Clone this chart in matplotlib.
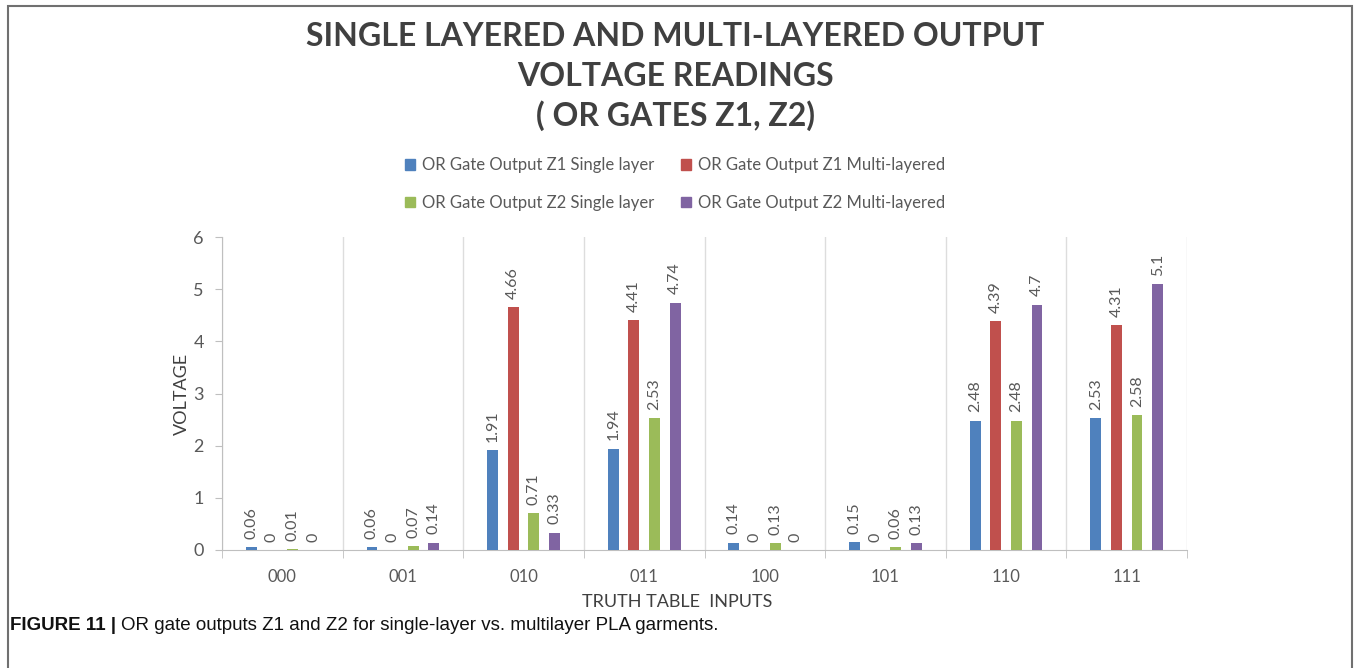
import numpy as np
import matplotlib
matplotlib.use("Agg")
import matplotlib.pyplot as plt
from matplotlib.patches import Rectangle, Patch

# data
inputs = ["000", "001", "010", "011", "100", "101", "110", "111"]
z1_single = [0.06, 0.06, 1.91, 1.94, 0.14, 0.15, 2.48, 2.53]
z1_multi = [0, 0, 4.66, 4.41, 0, 0, 4.39, 4.31]
z2_single = [0.01, 0.07, 0.71, 2.53, 0.13, 0.06, 2.48, 2.58]
z2_multi = [0, 0.14, 0.33, 4.74, 0, 0.13, 4.7, 5.1]
series_names = ["OR Gate Output Z1 Single layer", "OR Gate Output Z1 Multi-layered",
                "OR Gate Output Z2 Single layer", "OR Gate Output Z2 Multi-layered"]
colors = ["#4F81BD", "#C0504D", "#9BBB59", "#8064A2"]

plt.rcParams['font.family'] = ['Lato', 'DejaVu Sans']
grey = "#595959"

fig = plt.figure(figsize=(13.54, 6.68), dpi=100)
ax = fig.add_axes([222/1354, 1-550/668, 965/1354, 313/668])

x = np.arange(len(inputs))
step = 0.171
width = 0.091
all_series = [z1_single, z1_multi, z2_single, z2_multi]
for i, (vals, col) in enumerate(zip(all_series, colors)):
    pos = x + (i - 1.5)*step
    bars = ax.bar(pos, vals, width, color=col, zorder=3)
    for b, v in zip(bars, vals):
        ax.annotate(f"{v:g}", (b.get_x() + b.get_width()/2, v), xytext=(0, 6),
                    textcoords="offset points", rotation=90, ha="center", va="bottom",
                    fontsize=11.5, color=grey)

ax.set_xlim(-0.5, len(inputs) - 0.5)
ax.set_ylim(0, 6)
ax.set_yticks(range(7))
ax.set_xticks(x)
ax.set_xticklabels(inputs)
ax.set_xticks(np.arange(-0.5, len(inputs)), minor=True)
ax.tick_params(axis="x", which="major", length=0, pad=14, labelsize=12, labelcolor=grey)
ax.tick_params(axis="x", which="minor", length=6, color="#BFBFBF", direction="out")
ax.tick_params(axis="y", length=5, color="#BFBFBF", labelsize=13, labelcolor=grey, pad=8)
ax.grid(axis="x", which="minor", color="#DDDDDD", linewidth=1)
for s in ["top", "right"]:
    ax.spines[s].set_visible(False)
for s in ["left", "bottom"]:
    ax.spines[s].set_color("#BFBFBF")

ax.set_ylabel("VOLTAGE", fontsize=13, color="#404040")
ax.yaxis.set_label_coords(-0.033, 0.5)
ax.set_xlabel("TRUTH TABLE  INPUTS", fontsize=13, color="#404040")
ax.xaxis.set_label_coords(0.4715, -0.14)

# title
title_lines = ["SINGLE LAYERED AND MULTI-LAYERED OUTPUT", "VOLTAGE READINGS", "( OR GATES Z1, Z2)"]
for k, line in enumerate(title_lines):
    fig.text(675/1354, 1 - (36 + 40*k)/668, line, ha="center", va="center",
             fontsize=23, fontweight="bold", color="#404040")

# legend
handles = [Patch(color=c) for c in colors]
order = [0, 2, 1, 3]
fig.legend([handles[i] for i in order], [series_names[i] for i in order], ncol=2,
           loc="center", bbox_to_anchor=(0.4985, 1 - 184/668), frameon=False,
           fontsize=12, handlelength=0.6, handleheight=0.6, handletextpad=0.4,
           columnspacing=1.6, labelspacing=1.3, labelcolor=grey)

# outer frame
fig.patches.append(Rectangle((8/1354, -0.1), 1344/1354, 1.1 - 6/668, transform=fig.transFigure,
                             fill=False, edgecolor="#707070", linewidth=1.5))

# caption
cap_font = ['Liberation Sans', 'DejaVu Sans']
t1 = fig.text(10/1354, 1 - 626/668, "FIGURE 11 |", ha="left", va="center",
              fontsize=13.5, fontweight="bold", family=cap_font, color="#111111")
fig.canvas.draw()
bb = t1.get_window_extent()
fig.text((bb.x1 + 5)/1354, 1 - 626/668, "OR gate outputs Z1 and Z2 for single-layer vs. multilayer PLA garments.",
         ha="left", va="center", fontsize=13.5, family=cap_font, color="#111111")

fig.savefig("out.png", dpi=100)
